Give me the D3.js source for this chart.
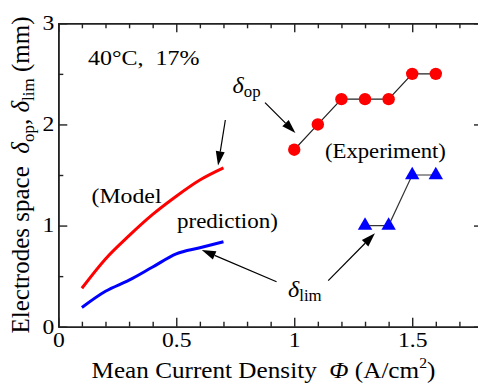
<!DOCTYPE html>
<html>
<head>
<meta charset="utf-8">
<script src="https://cdn.jsdelivr.net/npm/d3@7"></script>
<style>
  html, body { margin: 0; padding: 0; background: #fff; }
  svg text { font-family: "Liberation Serif", "Times New Roman", Times, "DejaVu Serif", serif; white-space: pre; }
</style>
</head>
<body>
<svg id="chart" width="478" height="383"></svg>
<script>
// Model prediction curves (mean current density, A/cm^2)
const modelPhi = [0.1, 0.2, 0.3, 0.4, 0.5, 0.6, 0.7];
const modelOp  = [0.38, 0.67, 0.90, 1.11, 1.29, 1.45, 1.57];
const modelLim = [0.19, 0.35, 0.46, 0.59, 0.72, 0.78, 0.84];

// Experimental points
const expOpPhi  = [1.0, 1.1, 1.2, 1.3, 1.4, 1.5, 1.6];
const expOp     = [1.75, 2.0, 2.25, 2.25, 2.25, 2.5, 2.5];
const expLimPhi = [1.3, 1.4, 1.5, 1.6];
const expLim    = [1.0, 1.0, 1.5, 1.5];

// Axis ticks
const xMajor = [0, 0.5, 1, 1.5];
const xMinor = [0.1,0.2,0.3,0.4,0.6,0.7,0.8,0.9,1.1,1.2,1.3,1.4,1.6,1.7];
const yMajor = [0, 1, 2, 3];
const yMinor = [0.5, 1.5, 2.5];

const svg = d3.select("#chart");
const x = d3.scaleLinear().domain([0, 1.8]).range([58.3, 483]);
const y = d3.scaleLinear().domain([0, 3]).range([326.7, 23.3]);
const axisColor = "#222";
const SX = 1.18; // horizontal stretch of the lettering

// Axes with inward ticks on all four sides
function styleAxis(g) {
  g.attr("font-family", null).attr("font-size", null);
  g.selectAll("path.domain").attr("stroke", axisColor).attr("stroke-width", 1.6);
  g.selectAll(".tick line").attr("stroke", axisColor).attr("stroke-width", 1.4);
  g.selectAll(".tick text").attr("fill", "#000").style("font-size", "20px")
    .attr("transform", `scale(${SX},1)`);
}
const fmt = d => (d === 0 ? "0" : d3.format("")(d));

svg.append("g").attr("transform", `translate(0,${y(0)})`)
  .call(d3.axisBottom(x).tickValues(xMajor).tickSize(-9).tickSizeOuter(0).tickPadding(6).tickFormat(fmt))
  .call(styleAxis);
svg.append("g").attr("transform", `translate(0,${y(0)})`)
  .call(d3.axisBottom(x).tickValues(xMinor).tickSize(-5).tickSizeOuter(0).tickFormat(""))
  .call(styleAxis);
svg.append("g").attr("transform", `translate(0,${y(3)})`)
  .call(d3.axisTop(x).tickValues(xMajor).tickSize(-9).tickSizeOuter(0).tickFormat(""))
  .call(styleAxis);
svg.append("g").attr("transform", `translate(0,${y(3)})`)
  .call(d3.axisTop(x).tickValues(xMinor).tickSize(-5).tickSizeOuter(0).tickFormat(""))
  .call(styleAxis);
svg.append("g").attr("transform", `translate(${x(0)},0)`)
  .call(d3.axisLeft(y).tickValues(yMajor).tickSize(-9).tickSizeOuter(0).tickPadding(3.5).tickFormat(fmt))
  .call(styleAxis);
svg.append("g").attr("transform", `translate(${x(0)},0)`)
  .call(d3.axisLeft(y).tickValues(yMinor).tickSize(-5).tickSizeOuter(0).tickFormat(""))
  .call(styleAxis);
svg.append("g").attr("transform", `translate(${x(1.8)},0)`)
  .call(d3.axisRight(y).tickValues(yMajor).tickSize(-9).tickSizeOuter(0).tickFormat(""))
  .call(styleAxis);
svg.append("g").attr("transform", `translate(${x(1.8)},0)`)
  .call(d3.axisRight(y).tickValues(yMinor).tickSize(-5).tickSizeOuter(0).tickFormat(""))
  .call(styleAxis);

// Model curves
const line = d3.line().x(d => x(d[0])).y(d => y(d[1])).curve(d3.curveMonotoneX);
svg.append("path").datum(d3.zip(modelPhi, modelOp))
  .attr("d", line).attr("fill", "none").attr("stroke", "#ff0000").attr("stroke-width", 3);
svg.append("path").datum(d3.zip(modelPhi, modelLim))
  .attr("d", line).attr("fill", "none").attr("stroke", "#0000ff").attr("stroke-width", 3);

// Experimental series: connecting lines then markers
const lin = d3.line().x(d => x(d[0])).y(d => y(d[1]));
const opPts = d3.zip(expOpPhi, expOp);
const limPts = d3.zip(expLimPhi, expLim);
svg.append("path").datum(opPts).attr("d", lin).attr("fill", "none").attr("stroke", "#222").attr("stroke-width", 1.2);
svg.append("path").datum(limPts).attr("d", lin).attr("fill", "none").attr("stroke", "#333").attr("stroke-width", 1.2);
svg.selectAll("circle.op").data(opPts).enter().append("circle")
  .attr("cx", d => x(d[0])).attr("cy", d => y(d[1])).attr("r", 6.2).attr("fill", "#ff0000");
const tri = d3.symbol().type(d3.symbolTriangle).size(90);
svg.selectAll("path.lim").data(limPts).enter().append("path")
  .attr("d", tri).attr("transform", d => `translate(${x(d[0])},${y(d[1])})`).attr("fill", "#0000ff");

// Annotation arrows (data coordinates: start -> tip)
const arrows = [
  [[0.708, 2.044], [0.677, 1.595]],
  [[0.876, 2.216], [1.005, 1.915]],
  [[0.925, 0.445], [0.608, 0.759]],
  [[1.144, 0.456], [1.342, 0.924]]
];
arrows.forEach(([s, t]) => {
  const x1 = x(s[0]), y1 = y(s[1]), x2 = x(t[0]), y2 = y(t[1]);
  const ang = Math.atan2(y2 - y1, x2 - x1);
  const L = 14, W = 4.5;
  const bx = x2 - L * Math.cos(ang), by = y2 - L * Math.sin(ang);
  svg.append("line").attr("x1", x1).attr("y1", y1).attr("x2", bx).attr("y2", by)
    .attr("stroke", "#000").attr("stroke-width", 1.2);
  const px = -Math.sin(ang) * W, py = Math.cos(ang) * W;
  svg.append("path")
    .attr("d", `M${x2},${y2}L${bx + px},${by + py}L${bx - px},${by - py}Z`)
    .attr("fill", "#000");
});

// Text labels, widened horizontally
const t = (px, py, size, sx) => svg.append("text")
  .attr("transform", `translate(${px},${py}) scale(${sx},1)`)
  .style("font-size", size + "px").attr("fill", "#000");
t(88, 65, 20, 1.2).text("40°C,  17%");
t(91.5, 202.5, 20, 1.19).text("(Model");
t(177, 227.5, 20, 1.15).text("prediction)");
t(325, 158, 20, 1.135).text("(Experiment)");

const dop = t(232.5, 93, 23, 1.05);
dop.append("tspan").style("font-style", "italic").text("δ");
dop.append("tspan").style("font-size", "16px").attr("dy", 4).text("op");

const dlim = t(288, 296.5, 23, 1.05);
dlim.append("tspan").style("font-style", "italic").text("δ");
dlim.append("tspan").style("font-size", "16px").attr("dy", 4).text("lim");

// Axis titles
const xt = t(91.5, 378, 22.5, 1.12);
xt.append("tspan").text("Mean Current Density  ");
xt.append("tspan").style("font-style", "italic").text("Φ");
xt.append("tspan").text(" (A/cm");
xt.append("tspan").style("font-size", "14px").attr("dy", -10).text("2");
xt.append("tspan").attr("dy", 10).text(")");

const yt = svg.append("text").attr("transform", "translate(28.5,175) rotate(-90)")
  .attr("text-anchor", "middle").style("font-size", "25px").attr("fill", "#000");
yt.append("tspan").text("Electrodes space  ");
yt.append("tspan").style("font-style", "italic").text("δ");
yt.append("tspan").style("font-size", "17px").attr("dy", 5).text("op");
yt.append("tspan").attr("dy", -5).text(", ");
yt.append("tspan").style("font-style", "italic").text("δ");
yt.append("tspan").style("font-size", "17px").attr("dy", 5).text("lim");
yt.append("tspan").attr("dy", -5).text(" (mm)");
</script>
</body>
</html>
